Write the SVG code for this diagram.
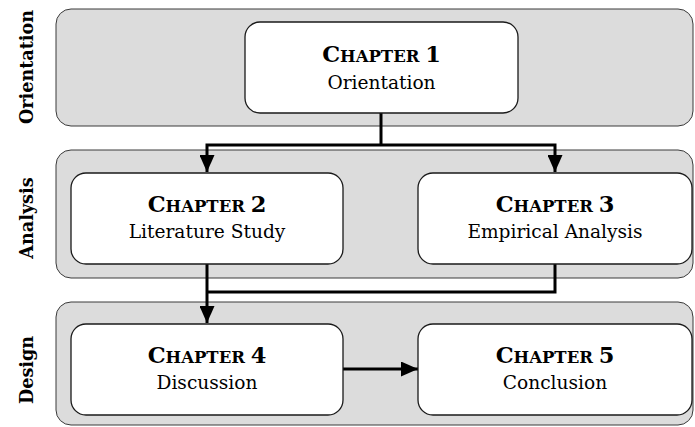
<svg xmlns="http://www.w3.org/2000/svg" width="695" height="427" viewBox="0 0 695 427">
  <style>
    .band { fill: #dcdcdc; stroke: #3a3a3a; stroke-width: 1; }
    .box { fill: #ffffff; stroke: #1a1a1a; stroke-width: 1.3; }
    .phase { font-family: "DejaVu Serif", "Liberation Serif", serif; font-weight: bold; font-size: 17.6px; fill: #000; text-anchor: middle; }
    .title { font-family: "DejaVu Serif", "Liberation Serif", serif; font-weight: bold; fill: #000; text-anchor: middle; }
    .big { font-size: 22.5px; }
    .sc { font-size: 16.5px; }
    .sub { font-family: "DejaVu Serif", "Liberation Serif", serif; font-size: 18.6px; fill: #000; text-anchor: middle; }
    .wire { fill: none; stroke: #000; stroke-width: 3; }
  </style>
  <defs>
    <marker id="arrow" markerUnits="userSpaceOnUse" markerWidth="17" markerHeight="15" refX="17" refY="7.5" orient="auto">
      <path d="M0,0 L17,7.5 L0,15 Z" fill="#000"/>
    </marker>
  </defs>

  <!-- phase bands -->
  <g id="band-orientation">
    <rect class="band" x="56" y="9" width="637" height="117" rx="15"/>
    <text class="phase" transform="translate(33,67) rotate(-90)">Orientation</text>
  </g>
  <g id="band-analysis">
    <rect class="band" x="56" y="150" width="637" height="128" rx="15"/>
    <text class="phase" transform="translate(33,218) rotate(-90)">Analysis</text>
  </g>
  <g id="band-design">
    <rect class="band" x="56" y="302" width="637" height="123" rx="15"/>
    <text class="phase" transform="translate(33,370) rotate(-90)">Design</text>
  </g>

  <!-- connectors -->
  <g id="connectors">
    <path class="wire" d="M381,113 V145"/>
    <path class="wire" d="M381,145 H207 V172" marker-end="url(#arrow)"/>
    <path class="wire" d="M381,145 H555 V172" marker-end="url(#arrow)"/>
    <path class="wire" d="M555,264 V292 H207"/>
    <path class="wire" d="M207,264 V323" marker-end="url(#arrow)"/>
    <path class="wire" d="M343,369 H418" marker-end="url(#arrow)"/>
  </g>

  <!-- chapters -->
  <g id="chapter1">
    <rect class="box" x="245" y="22" width="273" height="91" rx="15"/>
    <text class="title" x="381.5" y="62"><tspan class="big">C</tspan><tspan class="sc">HAPTER </tspan><tspan class="big">1</tspan></text>
    <text class="sub" x="381.5" y="89">Orientation</text>
  </g>
  <g id="chapter2">
    <rect class="box" x="71" y="173" width="272" height="91" rx="15"/>
    <text class="title" x="207" y="212"><tspan class="big">C</tspan><tspan class="sc">HAPTER </tspan><tspan class="big">2</tspan></text>
    <text class="sub" x="207" y="238">Literature Study</text>
  </g>
  <g id="chapter3">
    <rect class="box" x="418" y="173" width="274" height="91" rx="15"/>
    <text class="title" x="555" y="212"><tspan class="big">C</tspan><tspan class="sc">HAPTER </tspan><tspan class="big">3</tspan></text>
    <text class="sub" x="555" y="238">Empirical Analysis</text>
  </g>
  <g id="chapter4">
    <rect class="box" x="71" y="324" width="272" height="91" rx="15"/>
    <text class="title" x="207" y="363"><tspan class="big">C</tspan><tspan class="sc">HAPTER </tspan><tspan class="big">4</tspan></text>
    <text class="sub" x="207" y="389">Discussion</text>
  </g>
  <g id="chapter5">
    <rect class="box" x="418" y="324" width="274" height="91" rx="15"/>
    <text class="title" x="555" y="363"><tspan class="big">C</tspan><tspan class="sc">HAPTER </tspan><tspan class="big">5</tspan></text>
    <text class="sub" x="555" y="389">Conclusion</text>
  </g>
</svg>
